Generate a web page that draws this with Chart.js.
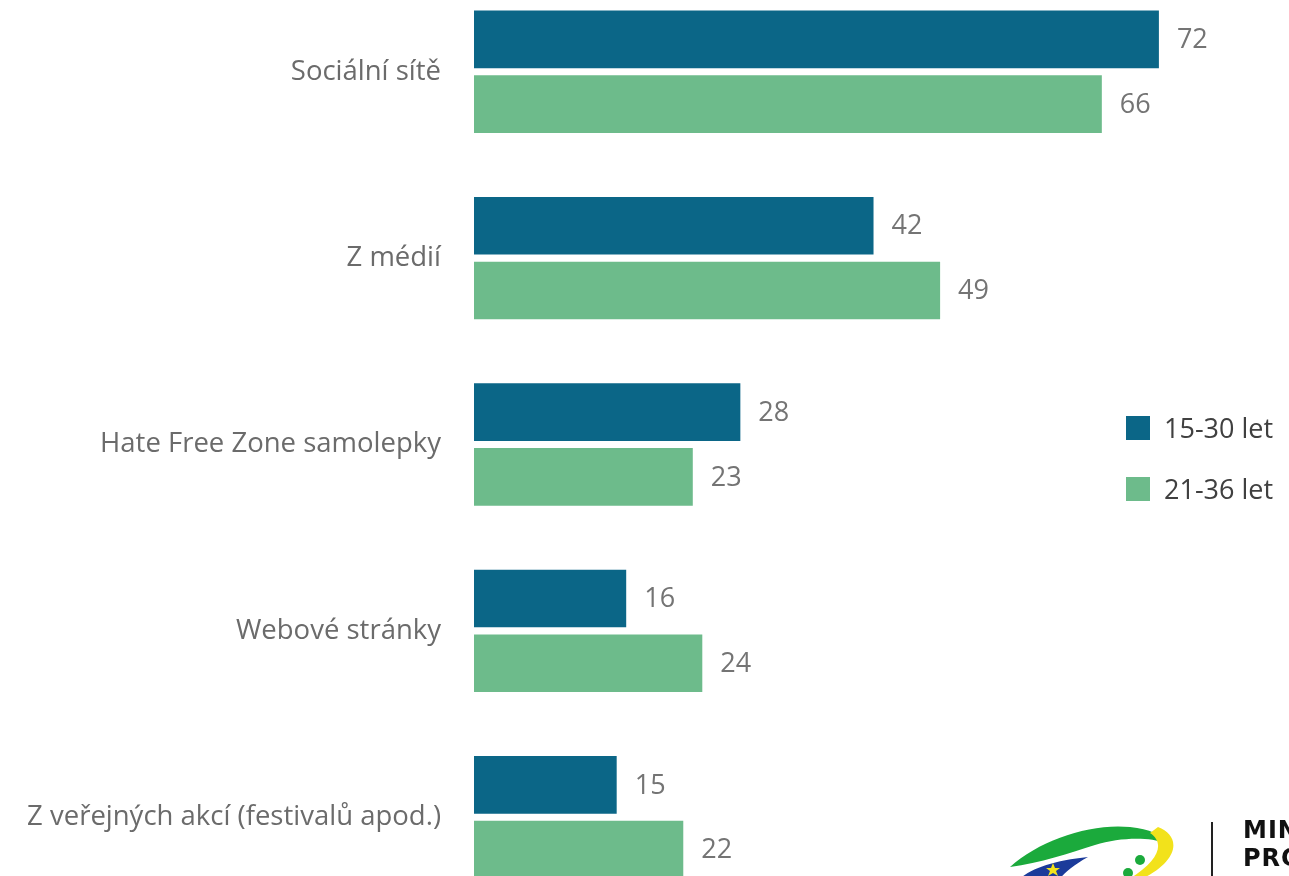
<!DOCTYPE html>
<html>
<head>
<meta charset="utf-8">
<script src="https://cdn.jsdelivr.net/npm/chart.js@4"></script>
<style>
  html, body { margin:0; padding:0; background:#fff; }
  body { width:1289px; height:876px; overflow:hidden; position:relative; font-family:"Open Sans", sans-serif; }
  #chart { position:absolute; left:0; top:-71px; }
  .leg { position:absolute; left:1126px; font-size:27px; color:#404040; }
  .leg span.box { position:absolute; left:0; top:4px; width:24px; height:24px; }
  .leg span.txt { position:absolute; left:38px; top:-3px; white-space:nowrap; }
  #logoTxt { position:absolute; left:1243px; top:816px; font-family:"DejaVu Sans", sans-serif; font-weight:bold; font-size:24px; line-height:28px; color:#111; white-space:nowrap; letter-spacing:1px; }
  #logoLine { position:absolute; left:1211px; top:822px; width:2px; height:60px; background:#222; }
</style>
</head>
<body>
<canvas id="chart" width="1289" height="1031"></canvas>

<div class="leg" style="top:412px"><span class="box" style="background:#0B6687"></span><span class="txt">15-30 let</span></div>
<div class="leg" style="top:473px"><span class="box" style="background:#6DBB8B"></span><span class="txt">21-36 let</span></div>

<svg style="position:absolute;left:1000px;top:815px" width="200" height="70">
  <path d="M10 52 C40 25, 90 8, 130 12 C150 14, 162 20, 165 28 C150 22, 120 22, 95 30 C70 38, 40 48, 10 52 Z" fill="#1BAA3C"/>
  <path d="M158 12 C180 20, 182 45, 140 65 L128 65 C160 45, 165 28, 150 18 Z" fill="#F2E21B"/>
  <path d="M14 70 C25 55, 50 46, 88 42 C70 52, 60 62, 55 70 Z" fill="#1B3B9A"/>
  <polygon points="53,48 55,53 60,53 56,56 58,61 53,58 48,61 50,56 46,53 51,53" fill="#F2E21B"/>
  <circle cx="140" cy="45" r="5" fill="#1BAA3C"/>
  <circle cx="128" cy="58" r="5" fill="#1BAA3C"/>
</svg>
<div id="logoLine"></div>
<div id="logoTxt">MINISTERSTVO<br>PRO MÍSTNÍ ROZVOJ</div>

<script>
const categories = ["Sociální sítě", "Z médií", "Hate Free Zone samolepky", "Webové stránky", "Z veřejných akcí (festivalů apod.)"];
const seriesNames = ["15-30 let", "21-36 let"];
const values1530 = [72, 42, 28, 16, 15];
const values2136 = [66, 49, 23, 24, 22];

const valueLabels = {
  id: "valueLabels",
  afterDatasetsDraw(chart) {
    const ctx = chart.ctx;
    ctx.save();
    ctx.font = "27px 'Open Sans', sans-serif";
    ctx.fillStyle = "#747474";
    ctx.textAlign = "left";
    ctx.textBaseline = "middle";
    chart.data.datasets.forEach((ds, i) => {
      chart.getDatasetMeta(i).data.forEach((bar, j) => {
        ctx.fillText(ds.data[j], bar.x + 18, bar.y + 1);
      });
    });
    ctx.restore();
  }
};

new Chart(document.getElementById("chart"), {
  type: "bar",
  data: {
    labels: categories,
    datasets: [
      { label: seriesNames[0], data: values1530, backgroundColor: "#0B6687" },
      { label: seriesNames[1], data: values2136, backgroundColor: "#6DBB8B" }
    ]
  },
  options: {
    indexAxis: "y",
    responsive: false,
    animation: false,
    categoryPercentage: 0.695,
    barPercentage: 0.89,
    layout: { padding: { top: 0, bottom: 0, left: 0, right: 54 } },
    plugins: { legend: { display: false }, tooltip: { enabled: false } },
    scales: {
      x: { display: false, min: 0, max: 80 },
      y: {
        grid: { display: false, drawTicks: false },
        border: { display: false },
        ticks: { color: "#6b6b6b", font: { family: "'Open Sans', sans-serif", size: 27.5 }, padding: 33 },
        afterFit(scale) { scale.width = 474; }
      }
    }
  },
  plugins: [valueLabels]
});
</script>
</body>
</html>
